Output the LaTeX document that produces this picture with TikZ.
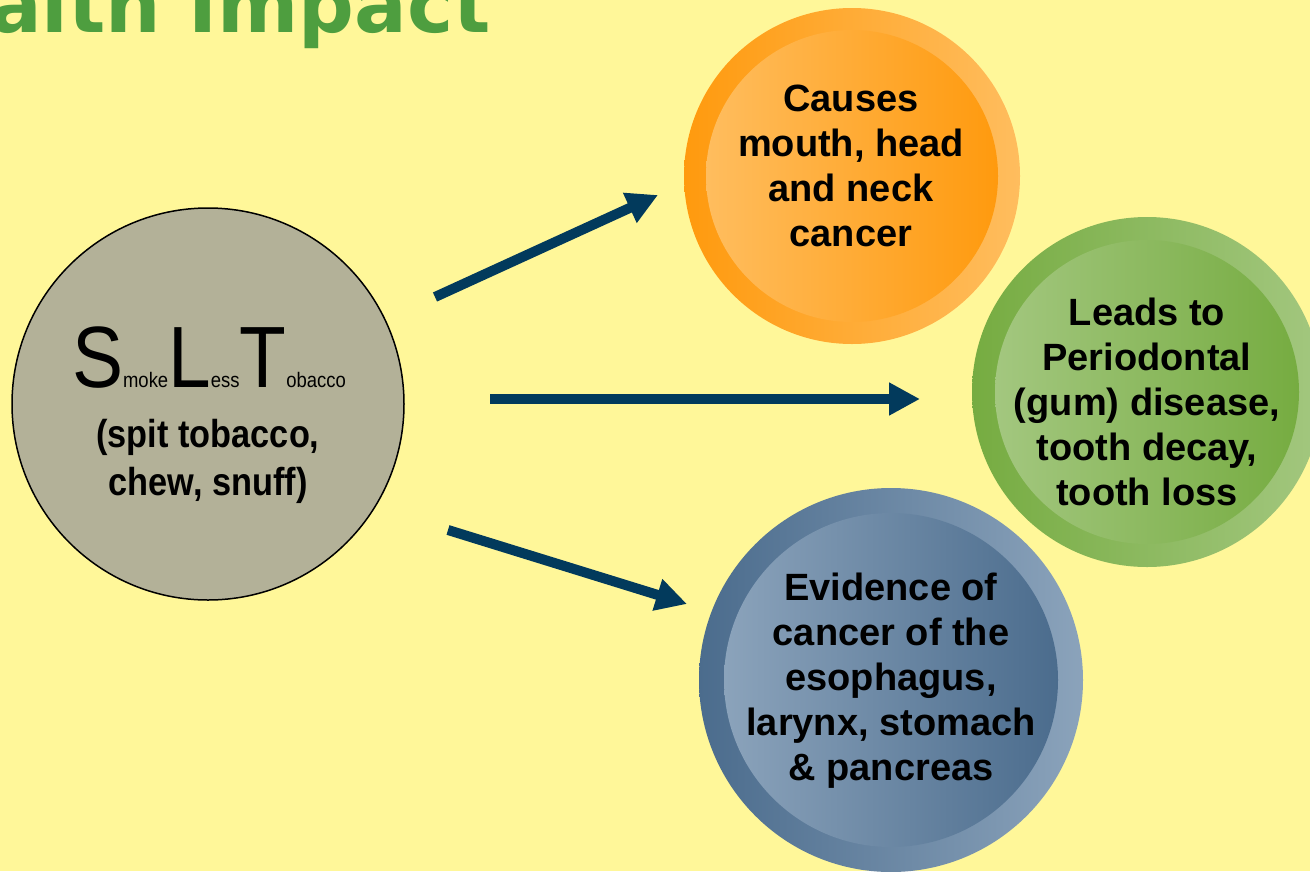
\documentclass[tikz,border=0pt]{standalone}
\usepackage{fontspec}
\setmainfont{Liberation Sans}
\newfontfamily\narrowfont[FakeStretch=0.88]{Liberation Sans}
\newfontfamily\titlefont{DejaVu Sans}
\usetikzlibrary{positioning,arrows.meta}
\definecolor{paper}{HTML}{FFF799}
\definecolor{leafgreen}{HTML}{4E9E3F}
\definecolor{khaki}{HTML}{B3B198}
\definecolor{navy}{HTML}{023A5C}
\definecolor{orA}{HTML}{FF9A0E}
\definecolor{orB}{HTML}{FFBD5E}
\definecolor{grA}{HTML}{76AC41}
\definecolor{grB}{HTML}{A3C77F}
\definecolor{blA}{HTML}{4B6C8D}
\definecolor{blB}{HTML}{8BA3BB}
\newcommand\capletter[1]{{\fontsize{87}{87}\selectfont #1}}
\newcommand\tailword[1]{{\fontsize{21}{21}\selectfont #1}}

\begin{document}
\begin{tikzpicture}[x=1pt,y=-1pt,
				disc/.style={circle,inner sep=0pt,outer sep=0pt},
				blurb/.style={font=\bfseries\fontsize{38}{45}\selectfont,align=center,inner sep=0pt,anchor=north},
				pointer/.style={draw=navy,line width=10pt,-{Triangle[length=31pt,width=31pt]}}]
				\useasboundingbox (0,0) rectangle (1310,871);
				\fill[paper] (0,0) rectangle (1310,871);
				\clip (0,0) rectangle (1310,871);
				
				\node[anchor=base east,inner sep=0pt,text=leafgreen,font=\titlefont\bfseries\fontsize{78}{78}\selectfont] (TITLE) at (491,32) {alth Impact};
				
				% smokeless tobacco
				\node[disc,draw,line width=1.5pt,fill=khaki,minimum size=392pt] (SLT) at (208,404) {};
				\node[inner sep=0pt,anchor=base,font=\narrowfont] (NAME) at (209,387)
					{\capletter{S}\tailword{moke}\capletter{L}\tailword{ess}\capletter{T}\tailword{obacco}};
				\node[inner sep=0pt,anchor=north,align=center,font=\narrowfont\bfseries\fontsize{39}{48}\selectfont] (USES) at (208,419) {(spit tobacco,\\chew, snuff)};
				
				% effects
				\node[disc,left color=orA,right color=orB,minimum size=336pt] (MOUTHRING) at (852,176) {};
				\node[disc,left color=orB,right color=orA,minimum size=292pt] (MOUTH)     at (MOUTHRING) {};
				\node[blurb] (MOUTHTXT) at (851,85) {Causes\\mouth, head\\and neck\\cancer};
				
				\node[disc,left color=grA,right color=grB,minimum size=350pt] (GUMRING) at (1147,392) {};
				\node[disc,left color=grB,right color=grA,minimum size=304pt] (GUM)     at (GUMRING) {};
				\node[blurb] (GUMTXT) at (1147,298) {Leads to\\Periodontal\\(gum) disease,\\tooth decay,\\tooth loss};
				
				\node[disc,left color=blA,right color=blB,minimum size=384pt] (GUTRING) at (891,680) {};
				\node[disc,left color=blB,right color=blA,minimum size=334pt] (GUT)     at (GUTRING) {};
				\node[blurb] (GUTTXT) at (891,573) {Evidence of\\cancer of the\\esophagus,\\larynx, stomach\\\& pancreas};
				
				\coordinate (UP0)   at (435,297);
				\coordinate (UP1)   at (658,195);
				\coordinate (MID0)  at (490,399);
				\coordinate (MID1)  at (920,399);
				\coordinate (DOWN0) at (448,530);
				\coordinate (DOWN1) at (687,604);
				
				\draw[pointer] (UP0)   -- (UP1);
				\draw[pointer] (MID0)  -- (MID1);
				\draw[pointer] (DOWN0) -- (DOWN1);
			\end{tikzpicture}
\end{document}
